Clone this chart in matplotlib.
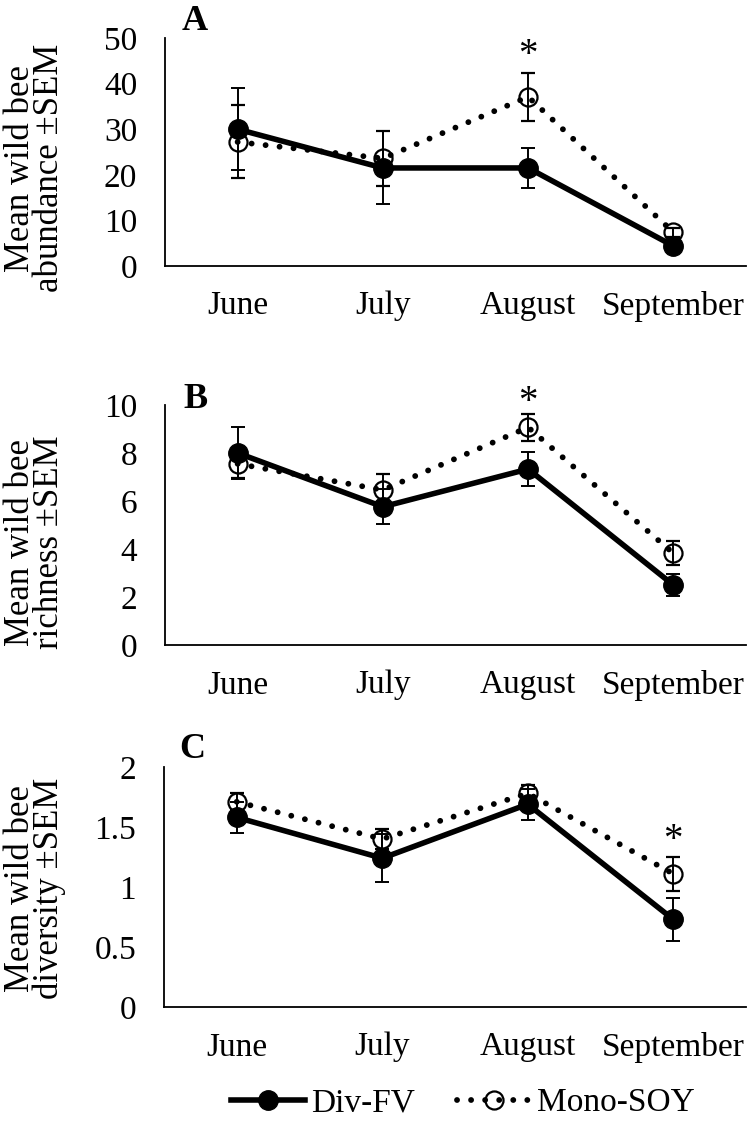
import matplotlib
matplotlib.use('Agg')
import matplotlib.pyplot as plt
from matplotlib.ticker import FormatStrFormatter
from matplotlib.lines import Line2D
import numpy as np

plt.rcParams['font.family'] = ['Liberation Serif', 'DejaVu Serif']

months = ['June', 'July', 'August', 'September']

# A - abundance
ab_div = [30.0, 21.5, 21.5, 4.4]
ab_div_err = [9.0, 8.0, 4.4, 1.0]
ab_mono = [27.2, 23.6, 37.1, 7.4]
ab_mono_err = [8.0, 6.0, 5.3, 1.0]

# B - richness
ri_div = [8.0, 5.76, 7.33, 2.5]
ri_div_err = [1.1, 0.72, 0.7, 0.45]
ri_mono = [7.55, 6.46, 9.07, 3.82]
ri_mono_err = [0.6, 0.65, 0.55, 0.5]

# C - diversity
di_div = [1.58, 1.24, 1.69, 0.73]
di_div_err = [0.13, 0.2, 0.13, 0.18]
di_mono = [1.71, 1.40, 1.78, 1.11]
di_mono_err = [0.07, 0.08, 0.07, 0.14]

panels = [
    ('A', 'Mean wild bee\nabundance \u00b1SEM', ab_div, ab_div_err, ab_mono, ab_mono_err, 50, 10, 2, 46.2, '%d'),
    ('B', 'Mean wild bee\nrichness \u00b1SEM', ri_div, ri_div_err, ri_mono, ri_mono_err, 10, 2, 2, 10.1, '%d'),
    ('C', 'Mean wild bee\ndiversity \u00b1SEM', di_div, di_div_err, di_mono, di_mono_err, 2, 0.5, 3, 1.39, '%g'),
]

W, H = 750, 1129
fig = plt.figure(figsize=(7.5, 11.29), dpi=100)

# axes boxes in pixels: (left, top, right, bottom)
boxes = [(165, 38, 746, 266), (165, 405, 746, 645), (164, 767, 746, 1007)]
letter_pos = [(195, 21), (195, 400), (192, 750)]
ylab_y = [168, 542, 888]

dotted = (0, (0.01, 2.4))
x = np.arange(4)
fs = 24
for i, (letter, ylab, dv, dve, mn, mne, ymax, step, star_i, star_y, fmt) in enumerate(panels):
    l, t, r, b = boxes[i]
    ax = fig.add_axes([l / W, 1 - b / H, (r - l) / W, (b - t) / H])
    ax.errorbar(x, mn, yerr=mne, color='black', lw=4.2, ls=dotted,
                dash_capstyle='round', marker='o', ms=13, mfc='none', mec='black',
                mew=1.6, ecolor='black', elinewidth=1.4, capsize=5, capthick=1.4,
                zorder=3)
    ax.errorbar(x, dv, yerr=dve, color='black', lw=4.0, marker='o', ms=14,
                mfc='black', mec='black', ecolor='black', elinewidth=1.4,
                capsize=5, capthick=1.4, zorder=4)
    ax.set_xlim(-0.5, 3.5)
    ax.set_ylim(0, ymax)
    ax.set_yticks(np.arange(0, ymax + step / 2, step))
    ax.yaxis.set_major_formatter(FormatStrFormatter(fmt))
    ax.set_xticks(x)
    ax.set_xticklabels(months)
    ax.tick_params(axis='both', length=0, labelsize=fs)
    ax.tick_params(axis='x', pad=18)
    ax.tick_params(axis='y', pad=20)
    for s in ['top', 'right']:
        ax.spines[s].set_visible(False)
    for s in ['left', 'bottom']:
        ax.spines[s].set_linewidth(1.3)
    ax.text(star_i, star_y, '*', ha='center', va='center', fontsize=28)
    fig.text(letter_pos[i][0] / W, 1 - letter_pos[i][1] / H, letter, fontsize=26,
             fontweight='bold', ha='center', va='center')
    fig.text(35 / W, 1 - ylab_y[i] / H, ylab, rotation=90, fontsize=25,
             ha='center', va='center', linespacing=0.86)

handles = [
    Line2D([], [], color='black', lw=4.0, marker='o', ms=14, mfc='black'),
    Line2D([], [], color='black', lw=4.2, ls=dotted, dash_capstyle='round',
           marker='o', ms=13, mfc='none', mew=1.6),
]
fig.legend(handles, ['Div-FV', 'Mono-SOY'], loc='center',
           bbox_to_anchor=(463 / W, 1 - 1103 / H), ncol=2, frameon=False,
           fontsize=fs, handlelength=2.2, handletextpad=0.2, columnspacing=1.25)

fig.savefig('out.png', dpi=100)
